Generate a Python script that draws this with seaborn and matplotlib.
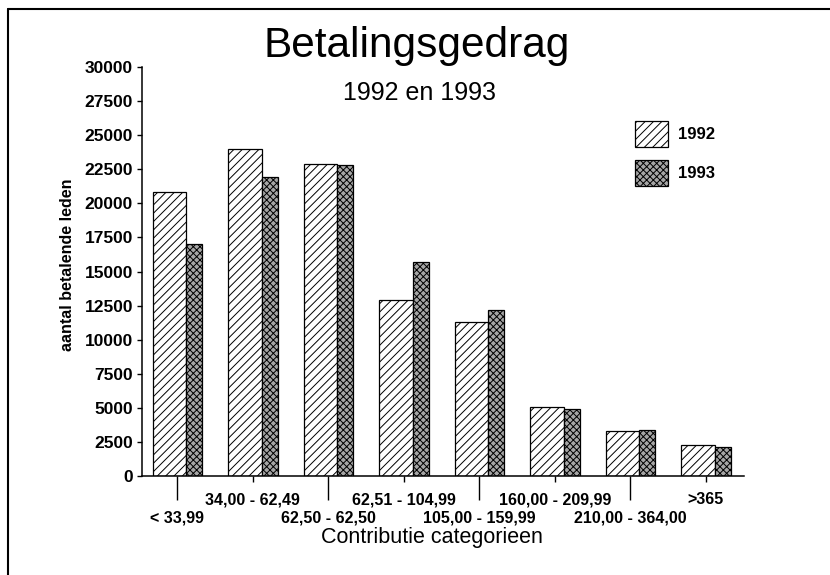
import seaborn as sns
import matplotlib.pyplot as plt
import matplotlib.patches as mpatches
import matplotlib.lines as mlines
import pandas as pd

categorieen = ['< 33,99', '34,00 - 62,49', '62,50 - 62,50', '62,51 - 104,99',
               '105,00 - 159,99', '160,00 - 209,99', '210,00 - 364,00', '>365']
jaren = ['1992', '1993']
leden_1992 = [20800, 24000, 22900, 12900, 11300, 5100, 3300, 2250]
leden_1993 = [17000, 21900, 22800, 15700, 12150, 4950, 3400, 2150]
y_ticks = list(range(0, 30001, 2500))

df = pd.DataFrame({
    'categorie': categorieen * 2,
    'jaar': [jaren[0]] * len(categorieen) + [jaren[1]] * len(categorieen),
    'leden': leden_1992 + leden_1993,
})

sns.set_style('ticks')
plt.rcParams['font.family'] = ['Liberation Sans', 'DejaVu Sans']
plt.rcParams['hatch.linewidth'] = 0.7
plt.rcParams['text.color'] = 'black'
plt.rcParams['axes.labelcolor'] = 'black'

kleur_92 = 'white'
kleur_93 = '#a6a6a6'
arcering_92 = '////'
arcering_93 = 'xxxxx'

fig = plt.figure(figsize=(8.3, 5.75), dpi=100)
ax = fig.add_axes([0.171, 0.172, 0.725, 0.7115])

sns.barplot(data=df, x='categorie', y='leden', hue='jaar', order=categorieen,
            hue_order=jaren, width=0.66, palette=[kleur_92, kleur_93],
            edgecolor='black', linewidth=0.9, legend=False, ax=ax)

# 1992 bars are wide, 1993 bars narrow
w92, w93 = 0.45, 0.21
for p in ax.patches:
    if p.get_facecolor()[0] > 0.9:
        p.set_width(w92)
        p.set_hatch(arcering_92)
    else:
        p.set_x(p.get_x() + (w92 - p.get_width()))
        p.set_width(w93)
        p.set_hatch(arcering_93)

ax.set_xlim(-0.47, 7.5)
ax.set_ylim(0, 30000)
ax.set_yticks(y_ticks)
ax.set_yticklabels([str(t) for t in y_ticks], fontweight='bold', fontsize=12.5)

ax.set_xticks(range(len(categorieen)))
ax.set_xticklabels(categorieen, fontsize=11.5, fontweight='bold')

ax.tick_params(axis='x', length=4.5, width=1, pad=7, colors='black')
ax.tick_params(axis='y', length=3.5, width=1, pad=3, colors='black')
# staggered labels: even ones on the lower row with a long tick
for i, tick in enumerate(ax.xaxis.get_major_ticks()):
    if i % 2 == 0:
        tick.set_pad(20)
        tick.tick1line.set_markersize(17)

sns.despine(ax=ax)
for s in ['left', 'bottom']:
    ax.spines[s].set_linewidth(1.1)
    ax.spines[s].set_color('black')

ax.set_ylabel('aantal betalende leden', fontsize=11.5, fontweight='bold')
ax.yaxis.set_label_coords(-0.111, 0.516)
ax.set_xlabel('Contributie categorieen', fontsize=15.5)
ax.xaxis.set_label_coords(0.482, -0.125)

fig.text(0.502, 0.901, 'Betalingsgedrag', fontsize=30.5, ha='center', va='baseline')
fig.text(0.506, 0.826, '1992 en 1993', fontsize=18, ha='center', va='baseline')

handles = [
    mpatches.Patch(facecolor=kleur_92, edgecolor='black', hatch=arcering_92, linewidth=0.9, label=jaren[0]),
    mpatches.Patch(facecolor=kleur_93, edgecolor='black', hatch=arcering_93, linewidth=0.9, label=jaren[1]),
]
fig.legend(handles=handles, loc='upper left', bbox_to_anchor=(0.765, 0.79),
           frameon=False, prop={'weight': 'bold', 'size': 12},
           handlelength=2.0, handleheight=2.0, handletextpad=0.6,
           labelspacing=0.8, borderpad=0, borderaxespad=0)

# scanned page frame: left and top edge
fig.add_artist(mlines.Line2D([0.0096, 0.0096], [0.0, 0.984], color='black', lw=1.5))
fig.add_artist(mlines.Line2D([0.0096, 1.0], [0.984, 0.984], color='black', lw=1.5))

fig.savefig('out.png', dpi=100)
